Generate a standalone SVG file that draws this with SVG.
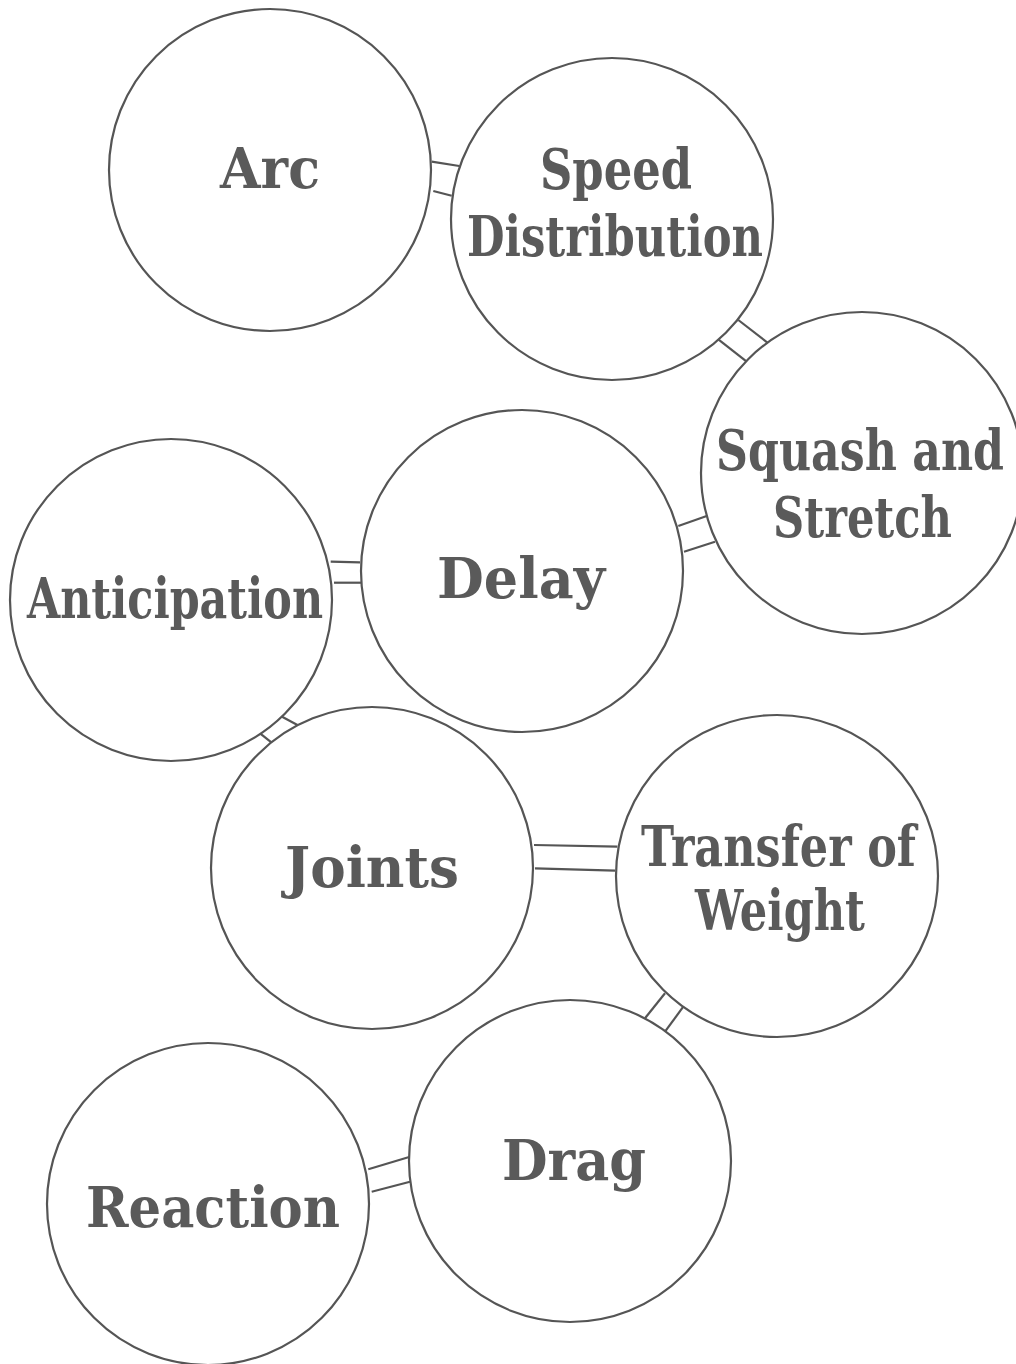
<svg xmlns="http://www.w3.org/2000/svg" width="1016" height="1364" viewBox="0 0 1016 1364">
<style>
.c{fill:#fff;stroke:#555;stroke-width:2.2}
.t{font-family:"DejaVu Serif","Liberation Serif",serif;font-weight:bold;font-size:56px;fill:#5a5a5a}
.k line{stroke:#555;stroke-width:2.2}
</style>
<rect width="1016" height="1364" fill="#fff"/>
<g id="connectors" class="k">
<line x1="431.7" y1="161.7" x2="459.3" y2="166"/>
<line x1="433.3" y1="191" x2="451.7" y2="195.7"/>
<line x1="738.3" y1="320" x2="768.3" y2="343.3"/>
<line x1="718.3" y1="339.3" x2="746.7" y2="361.7"/>
<line x1="678.3" y1="526" x2="706.7" y2="516"/>
<line x1="684" y1="551.7" x2="715" y2="541.7"/>
<line x1="330.7" y1="561.7" x2="360" y2="562.3"/>
<line x1="334" y1="582.7" x2="361" y2="582.7"/>
<line x1="280.7" y1="716" x2="299.3" y2="726"/>
<line x1="260" y1="733.3" x2="271.7" y2="742.7"/>
<line x1="534" y1="845" x2="617.3" y2="846.7"/>
<line x1="535" y1="868.3" x2="615" y2="870.7"/>
<line x1="665" y1="993.3" x2="645" y2="1018.3"/>
<line x1="683.3" y1="1006.7" x2="665" y2="1031.7"/>
<line x1="368.3" y1="1169.3" x2="410" y2="1156.7"/>
<line x1="371.7" y1="1191.7" x2="410" y2="1181.7"/>
</g>
<g id="arc"><circle class="c" cx="270" cy="170" r="161"/><text class="t" x="220" y="188" textLength="100" lengthAdjust="spacingAndGlyphs">Arc</text></g>
<g id="speed"><circle class="c" cx="612" cy="219" r="161"/><text class="t" x="540" y="189" textLength="152" lengthAdjust="spacingAndGlyphs">Speed</text><text class="t" x="467" y="256" textLength="296" lengthAdjust="spacingAndGlyphs">Distribution</text></g>
<g id="squash"><circle class="c" cx="862" cy="473" r="161"/><text class="t" x="716" y="470" textLength="288" lengthAdjust="spacingAndGlyphs">Squash and</text><text class="t" x="773" y="537" textLength="179" lengthAdjust="spacingAndGlyphs">Stretch</text></g>
<g id="delay"><circle class="c" cx="522" cy="571" r="161"/><text class="t" x="437" y="598" textLength="168" lengthAdjust="spacingAndGlyphs">Delay</text></g>
<g id="anticipation"><circle class="c" cx="171" cy="600" r="161"/><text class="t" x="27" y="618" textLength="296" lengthAdjust="spacingAndGlyphs">Anticipation</text></g>
<g id="joints"><circle class="c" cx="372" cy="868" r="161"/><text class="t" x="285" y="887" textLength="174" lengthAdjust="spacingAndGlyphs">Joints</text></g>
<g id="transfer"><circle class="c" cx="777" cy="876" r="161"/><text class="t" x="641" y="866" textLength="275" lengthAdjust="spacingAndGlyphs">Transfer of</text><text class="t" x="695" y="930" textLength="170" lengthAdjust="spacingAndGlyphs">Weight</text></g>
<g id="drag"><circle class="c" cx="570" cy="1161" r="161"/><text class="t" x="502" y="1180" textLength="144" lengthAdjust="spacingAndGlyphs">Drag</text></g>
<g id="reaction"><circle class="c" cx="208" cy="1204" r="161"/><text class="t" x="86" y="1227" textLength="254" lengthAdjust="spacingAndGlyphs">Reaction</text></g>
</svg>
